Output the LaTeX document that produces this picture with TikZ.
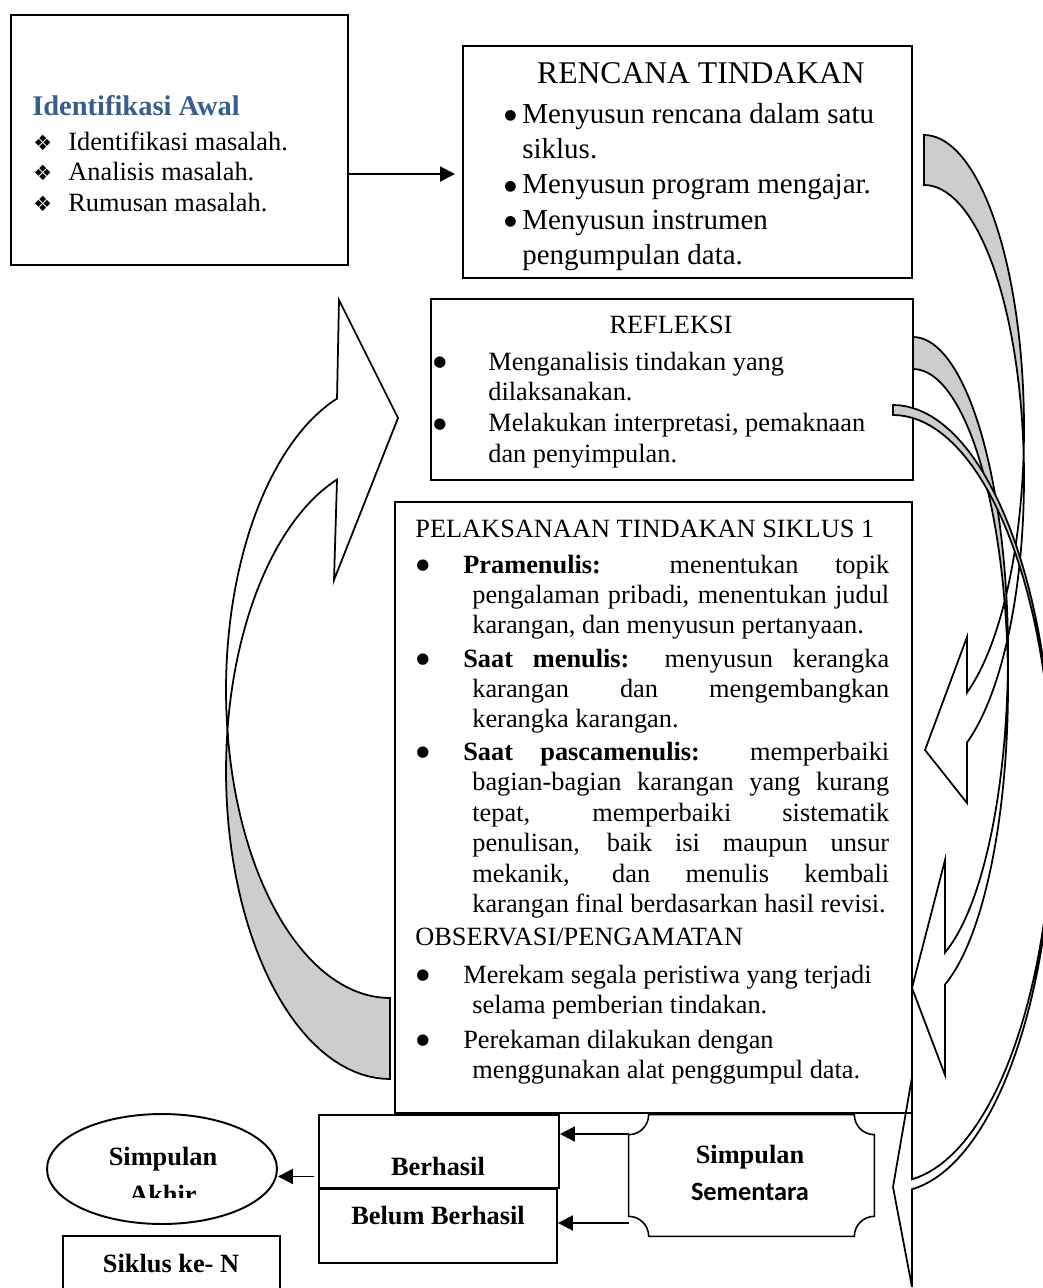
\documentclass[tikz,border=0pt]{standalone}
\usepackage{fontspec}
\setmainfont{Liberation Serif}
\newfontfamily\calibrifont{Carlito}
\newfontfamily\dingfont{DejaVu Sans}
\usepackage{xcolor}
\usetikzlibrary{arrows.meta,shapes.geometric}
\definecolor{headblue}{HTML}{365F91}
\definecolor{backgray}{HTML}{CDCDCD}
\newcommand{\parsetup}[2]{\fontsize{#1}{#2}\selectfont\tolerance=10000\pretolerance=10000\hbadness=10000\hyphenpenalty=10000\exhyphenpenalty=10000}
\newcommand{\blackdot}[1]{\raisebox{2.2pt}{\dingfont\fontsize{#1}{#1}\selectfont ●}}
\newcommand{\dingbul}{\makebox[0.7cm][l]{\dingfont\fontsize{12}{12}\selectfont ❖}}
\newcommand{\smallbul}{\makebox[0.36cm][l]{\blackdot{8}}}
\newcommand{\listbul}{\makebox[0.98cm][l]{\hspace{0.04cm}\blackdot{8.5}}}

\begin{document}
\begin{tikzpicture}[x=0.02cm,y=-0.02cm]
\tikzstyle{every node}+=[inner sep=0pt]
\tikzstyle{box}=[draw,rectangle,line width=1.1pt]
\tikzstyle{band}=[draw,line width=1pt]
\tikzstyle{arr}=[line width=1.1pt,-{Triangle[length=0.3cm,width=0.3cm]}]
\tikzstyle{txt}=[anchor=base west,font=\fontsize{15}{18}\selectfont]
\tikzstyle{ctxt}=[anchor=base,font=\fontsize{15}{18}\selectfont]
\tikzstyle{btxt}=[anchor=base,font=\bfseries\fontsize{15}{18}\selectfont]
\useasboundingbox (0,0) rectangle (1043,1288);
\node[box,minimum width=6.74cm,minimum height=5cm] (ident) at (179.5,140) {};
\node[txt,font=\bfseries\fontsize{16.2}{18}\selectfont,text=headblue] (identTitle) at (32,115) {Identifikasi Awal};
\node[txt] (identList) at (33,150) {\parbox[t]{6cm}{\parsetup{15}{17.64}\dingbul Identifikasi masalah.\\\dingbul Analisis masalah.\\\dingbul Rumusan masalah.}};
\node[box,minimum width=8.98cm,minimum height=4.64cm] (rencana) at (687.5,162) {};
\node[anchor=base,font=\fontsize{18}{20}\selectfont] (rencanaTitle) at (701,83) {RENCANA TINDAKAN};
\node[txt] (rencanaList) at (504,123) {\parbox[t]{8cm}{\parsetup{16.5}{20.2}\smallbul Menyusun rencana dalam satu\\\hspace*{0.36cm}siklus.\\\smallbul Menyusun program mengajar.\\\smallbul Menyusun instrumen\\\hspace*{0.36cm}pengumpulan data.}};
\coordinate (identOut) at (455,174);
\draw[arr] (ident.east |- identOut) -- (identOut);
\node[box,minimum width=9.64cm,minimum height=3.62cm] (refleksi) at (672,389.5) {};
\node[ctxt] (refleksiTitle) at (671,333) {REFLEKSI};
\node[txt] (refleksiList) at (433,370) {\parbox[t]{9cm}{\parsetup{15}{17.64}\makebox[1.1cm][l]{\blackdot{8.5}}Menganalisis tindakan yang\\\hspace*{1.1cm}dilaksanakan.\\\makebox[1.1cm][l]{\blackdot{8.5}}Melakukan interpretasi, pemaknaan\\\hspace*{1.1cm}dan penyimpulan.}};
\draw[band,fill=backgray] plot[domain=90:172.35,samples=40,variable=\t] ({390+164*cos(\t)},{690+308*sin(\t)}) -- plot[domain=187.5:90,samples=40,variable=\t] ({390+164*cos(\t)},{771+308*sin(\t)}) -- cycle;
\draw[band,fill=white] plot[domain=172.35:251.15,samples=40,variable=\t] ({390+164*cos(\t)},{690+308*sin(\t)}) -- (339,300) -- (398,418) -- (334,580) -- plot[domain=251.15:187.5,samples=40,variable=\t] ({390+164*cos(\t)},{771+308*sin(\t)}) -- cycle;
\draw[band,fill=backgray] plot[domain=-90:4.9,samples=40,variable=\t] ({924+100*cos(\t)},{428+293*sin(\t)}) -- plot[domain=-4.9:-90,samples=40,variable=\t] ({924+100*cos(\t)},{478+293*sin(\t)}) -- cycle;
\draw[band,fill=white] plot[domain=4.9:64.5,samples=40,variable=\t] ({924+100*cos(\t)},{428+293*sin(\t)}) -- (967,637) -- (925,750) -- (967,803) -- plot[domain=64.5:-4.9,samples=40,variable=\t] ({924+100*cos(\t)},{478+293*sin(\t)}) -- cycle;
\draw[band,fill=backgray] plot[domain=-90:2.91,samples=40,variable=\t] ({913+95*cos(\t)},{654+317*sin(\t)}) -- plot[domain=-2.91:-90,samples=40,variable=\t] ({913+95*cos(\t)},{686+317*sin(\t)}) -- cycle;
\draw[band,fill=white] plot[domain=2.91:70.3,samples=40,variable=\t] ({913+95*cos(\t)},{654+317*sin(\t)}) -- (945,860) -- (912,988) -- (945,1075) -- plot[domain=70.3:-2.91,samples=40,variable=\t] ({913+95*cos(\t)},{686+317*sin(\t)}) -- cycle;
\draw[band,fill=backgray] plot[domain=-90:0.74,samples=40,variable=\t] ({893+160*cos(\t)},{793.5+388.5*sin(\t)}) -- plot[domain=-0.74:-90,samples=40,variable=\t] ({893+160*cos(\t)},{803.5+388.5*sin(\t)}) -- cycle;
\draw[band,fill=white] plot[domain=0.74:83.18,samples=40,variable=\t] ({893+160*cos(\t)},{793.5+388.5*sin(\t)}) -- (912,1077) -- (893,1187) -- (912,1287) -- plot[domain=83.18:-0.74,samples=40,variable=\t] ({893+160*cos(\t)},{803.5+388.5*sin(\t)}) -- cycle;
\node[box,minimum width=10.34cm,minimum height=12.22cm] (pelaksanaan) at (653.5,807.5) {};
\node[txt] (pTitle) at (415,537) {PELAKSANAAN TINDAKAN SIKLUS 1};
\node[txt] (pItemA) at (414,573) {\parbox[t]{9.5cm}{\parsetup{15}{17.3}\noindent\hangindent=1.16cm\hangafter=1\listbul\textbf{Pramenulis:} menentukan topik\linebreak pengalaman pribadi, menentukan judul\linebreak karangan, dan menyusun pertanyaan.}};
\node[txt] (pItemB) at (414,667) {\parbox[t]{9.5cm}{\parsetup{15}{17.3}\noindent\hangindent=1.16cm\hangafter=1\listbul\textbf{Saat menulis:} menyusun kerangka\linebreak karangan dan mengembangkan\linebreak kerangka karangan.}};
\node[txt] (pItemC) at (414,760) {\parbox[t]{9.5cm}{\parsetup{15}{17.4}\noindent\hangindent=1.16cm\hangafter=1\listbul\textbf{Saat pascamenulis:} memperbaiki\linebreak bagian-bagian karangan yang kurang\linebreak tepat, memperbaiki sistematik\linebreak penulisan, baik isi maupun unsur\linebreak mekanik, dan menulis kembali\linebreak karangan final berdasarkan hasil revisi.}};
\node[txt] (oTitle) at (415,945) {OBSERVASI/PENGAMATAN};
\node[txt] (oItemA) at (414,983) {\parbox[t]{9.5cm}{\parsetup{15}{17.07}\raggedright\noindent\hangindent=1.16cm\hangafter=1\listbul Merekam segala peristiwa yang terjadi\newline selama pemberian tindakan.}};
\node[txt] (oItemB) at (414,1048) {\parbox[t]{9.5cm}{\parsetup{15}{17.07}\raggedright\noindent\hangindent=1.16cm\hangafter=1\listbul Perekaman dilakukan dengan\newline menggunakan alat penggumpul data.}};
\node[box,minimum width=4.8cm,minimum height=1.46cm] (berhasil) at (439,1151.5) {};
\node[btxt] (berhasilText) at (438,1175) {Berhasil};
\node[box,minimum width=4.76cm,minimum height=1.48cm] (belum) at (438,1226) {};
\node[btxt] (belumText) at (438,1224) {Belum Berhasil};
\node[draw,ellipse,line width=1.1pt,minimum width=4.6cm,minimum height=2.2cm] (akhir) at (162,1169) {};
\node[btxt] (akhirTop) at (163,1165) {Simpulan};
\begin{scope}
\clip (100,1150) rectangle (230,1197);
\node[btxt] (akhirBot) at (163,1203) {Akhir};
\end{scope}
\node[box,minimum width=4.34cm,minimum height=1.4cm] (siklus) at (171.5,1271) {};
\node[btxt] (siklusText) at (171,1272) {Siklus ke- N};
\node[minimum width=4.9cm,minimum height=2.42cm] (sementara) at (751.5,1175.5) {};
\draw[line width=0.9pt] ([xshift=0.4cm]sementara.north west) -- ([xshift=-0.4cm]sementara.north east) arc[start angle=180,end angle=270,radius=0.4cm] -- ([yshift=0.4cm]sementara.south east) arc[start angle=90,end angle=180,radius=0.4cm] -- ([xshift=0.4cm]sementara.south west) arc[start angle=0,end angle=90,radius=0.4cm] -- ([yshift=-0.4cm]sementara.north west) arc[start angle=270,end angle=360,radius=0.4cm] -- cycle;
\node[btxt] (semTop) at (750,1163) {Simpulan};
\node[anchor=base,font=\calibrifont\bfseries\fontsize{15}{18}\selectfont] (semBot) at (750,1200) {Sementara};
\coordinate (semA) at ([yshift=0.83cm]sementara.west);
\coordinate (semB) at ([yshift=-0.95cm]sementara.west);
\draw[arr] (semA) -- (semA -| berhasil.east);
\draw[arr] (semB) -- (semB -| belum.east);
\coordinate (berOut) at ([xshift=-0.08cm,yshift=-0.5cm]berhasil.west);
\draw[arr] (berOut) -- (berOut -| akhir.east);
\end{tikzpicture}
\end{document}
